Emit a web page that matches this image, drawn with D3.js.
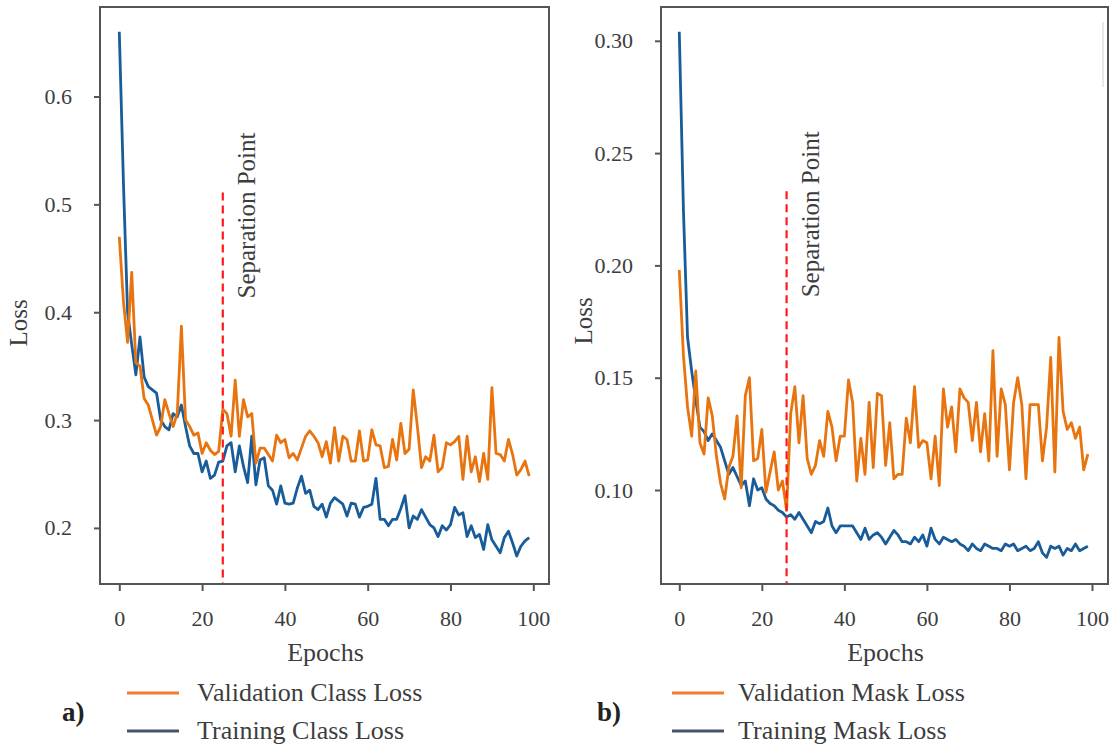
<!DOCTYPE html>
<html><head><meta charset="utf-8">
<script src="https://cdn.jsdelivr.net/npm/d3@7"></script>
<style>
html,body{margin:0;padding:0;background:#fff;}
svg{display:block;font-family:"Liberation Serif","Times New Roman",serif;}
</style></head><body>
<svg id="chart" width="1112" height="746"></svg>
<script>
const epochs = d3.range(0, 100);

const valClassLoss = [
0.470,0.410,0.372,0.437,0.353,0.350,0.320,0.314,0.300,0.286,
0.294,0.319,0.306,0.294,0.306,0.387,0.300,0.294,0.286,0.288,
0.269,0.279,0.272,0.268,0.271,0.310,0.306,0.285,0.337,0.285,
0.319,0.303,0.306,0.260,0.274,0.274,0.268,0.262,0.286,0.279,
0.282,0.265,0.269,0.263,0.274,0.285,0.290,0.285,0.279,0.266,
0.280,0.260,0.293,0.262,0.285,0.282,0.262,0.262,0.290,0.262,
0.263,0.291,0.277,0.276,0.256,0.257,0.282,0.263,0.297,0.269,
0.273,0.328,0.294,0.256,0.266,0.262,0.286,0.252,0.256,0.279,
0.277,0.280,0.285,0.245,0.285,0.252,0.266,0.243,0.269,0.245,
0.330,0.269,0.268,0.262,0.282,0.268,0.249,0.254,0.262,0.248];

const trainClassLoss = [
0.660,0.520,0.400,0.370,0.342,0.377,0.340,0.331,0.328,0.325,
0.300,0.294,0.291,0.306,0.303,0.314,0.294,0.276,0.269,0.269,
0.252,0.262,0.246,0.249,0.261,0.262,0.276,0.279,0.252,0.276,
0.257,0.242,0.285,0.240,0.263,0.265,0.239,0.235,0.222,0.239,
0.223,0.222,0.223,0.237,0.248,0.232,0.235,0.220,0.217,0.222,
0.210,0.223,0.228,0.225,0.222,0.211,0.223,0.222,0.210,0.219,
0.220,0.222,0.246,0.208,0.208,0.202,0.208,0.208,0.218,0.230,
0.200,0.211,0.208,0.217,0.210,0.203,0.200,0.192,0.202,0.198,
0.203,0.219,0.212,0.214,0.192,0.202,0.191,0.194,0.180,0.203,
0.189,0.183,0.177,0.191,0.197,0.186,0.174,0.183,0.188,0.191];

const valMaskLoss = [
0.198,0.160,0.137,0.124,0.153,0.121,0.116,0.141,0.133,0.115,
0.103,0.096,0.110,0.115,0.133,0.101,0.142,0.150,0.113,0.114,
0.127,0.099,0.108,0.117,0.100,0.104,0.091,0.134,0.146,0.121,
0.142,0.114,0.107,0.111,0.122,0.115,0.135,0.128,0.113,0.124,
0.124,0.149,0.139,0.104,0.123,0.107,0.139,0.110,0.143,0.142,
0.111,0.130,0.105,0.107,0.107,0.132,0.121,0.146,0.119,0.122,
0.121,0.105,0.124,0.102,0.145,0.128,0.137,0.117,0.145,0.141,
0.139,0.122,0.139,0.117,0.134,0.113,0.162,0.115,0.145,0.138,
0.109,0.139,0.150,0.138,0.105,0.138,0.138,0.138,0.113,0.128,
0.159,0.108,0.168,0.135,0.127,0.130,0.123,0.128,0.109,0.116];

const trainMaskLoss = [
0.304,0.225,0.168,0.153,0.140,0.128,0.126,0.122,0.125,0.122,
0.119,0.113,0.107,0.110,0.106,0.102,0.104,0.093,0.105,0.100,
0.101,0.096,0.094,0.093,0.091,0.090,0.088,0.089,0.087,0.090,
0.087,0.084,0.081,0.086,0.085,0.086,0.092,0.084,0.081,0.084,
0.084,0.084,0.084,0.081,0.078,0.083,0.078,0.080,0.081,0.079,
0.076,0.079,0.082,0.080,0.077,0.077,0.076,0.079,0.077,0.080,
0.075,0.083,0.078,0.076,0.079,0.078,0.077,0.078,0.076,0.075,
0.073,0.076,0.074,0.073,0.076,0.075,0.074,0.074,0.073,0.076,
0.075,0.076,0.073,0.074,0.075,0.073,0.074,0.077,0.072,0.070,
0.075,0.074,0.075,0.071,0.074,0.073,0.076,0.073,0.074,0.075];

const epochTicks = [0, 20, 40, 60, 80, 100];
const classTicks = [0.2, 0.3, 0.4, 0.5, 0.6];
const maskTicks = [0.10, 0.15, 0.20, 0.25, 0.30];
const legendA = ["Validation Class Loss", "Training Class Loss"];
const legendB = ["Validation Mask Loss", "Training Mask Loss"];
const panelLetters = ["a)", "b)"];
const separationEpochs = [25, 26];
const separationTops = [0.511, 0.233];
const separationLabel = "Separation Point";
const xLabel = "Epochs";
const yLabel = "Loss";

const COL_VAL = "#e8740f", COL_TRAIN = "#185c9a";
const LEG_VAL = "#ed7d31", LEG_TRAIN = "#44546a";
const TXT = "#3d3d3d", AX = "#555";

const svg = d3.select("#chart");

const panels = [
  {L:100, T:7, R:549, B:584, xd:[-4.66,103.79], yd:[0.148,0.683], yt:classTicks, fmt:d3.format(".1f"),
   val:valClassLoss, train:trainClassLoss, legend:legendA, letter:panelLetters[0],
   sep:separationEpochs[0], sepTop:separationTops[0], sepTxtDx:32, loss:{x:27,y:323},
   leg:{lx:127, tx:197, letterX:62}},
  {L:661, T:7, R:1108, B:584, xd:[-4.43,103.88], yd:[0.05815,0.31505], yt:maskTicks, fmt:d3.format(".2f"),
   val:valMaskLoss, train:trainMaskLoss, legend:legendB, letter:panelLetters[1],
   sep:separationEpochs[1], sepTop:separationTops[1], sepTxtDx:32, loss:{x:592,y:321},
   leg:{lx:672, tx:738, letterX:597}}
];

panels.forEach(p => {
  const x = d3.scaleLinear().domain(p.xd).range([p.L, p.R]);
  const y = d3.scaleLinear().domain(p.yd).range([p.B, p.T]);
  const g = svg.append("g");

  // x axis
  const xa = g.append("g").attr("transform", `translate(0,${p.B})`)
    .call(d3.axisBottom(x).tickValues(epochTicks).tickSize(7).tickFormat(d3.format("d")));
  xa.select(".domain").remove();
  xa.selectAll(".tick line").attr("stroke", AX).attr("stroke-width", 2);
  xa.selectAll(".tick text").attr("y", 42).attr("dy", 0).attr("fill", TXT)
    .attr("font-size", 22).attr("font-family", '"Liberation Serif","Times New Roman",serif');

  // y axis
  const ya = g.append("g").attr("transform", `translate(${p.L},0)`)
    .call(d3.axisLeft(y).tickValues(p.yt).tickSize(6).tickPadding(22).tickFormat(p.fmt));
  ya.select(".domain").remove();
  ya.selectAll(".tick line").attr("stroke", AX).attr("stroke-width", 2);
  ya.selectAll(".tick text").attr("fill", TXT).attr("font-size", 22)
    .attr("font-family", '"Liberation Serif","Times New Roman",serif');

  // lines
  const clipId = "clip" + p.L;
  svg.append("clipPath").attr("id", clipId).append("rect")
    .attr("x", p.L).attr("y", p.T).attr("width", p.R - p.L).attr("height", p.B - p.T);
  const line = d3.line().x((d, i) => x(epochs[i])).y(d => y(d));
  const lg = g.append("g").attr("clip-path", `url(#${clipId})`);
  lg.append("path").datum(p.train).attr("d", line).attr("fill", "none")
    .attr("stroke", COL_TRAIN).attr("stroke-width", 2.8).attr("stroke-linejoin", "round");
  lg.append("path").datum(p.val).attr("d", line).attr("fill", "none")
    .attr("stroke", COL_VAL).attr("stroke-width", 2.8).attr("stroke-linejoin", "round");

  // separation line
  lg.append("line").attr("x1", x(p.sep)).attr("x2", x(p.sep))
    .attr("y1", y(p.sepTop)).attr("y2", p.B)
    .attr("stroke", "#ff1a1a").attr("stroke-width", 2.2).attr("stroke-dasharray", "8,5");
  g.append("text").attr("transform", `translate(${x(p.sep) + p.sepTxtDx},${y(p.sepTop) + 106}) rotate(-90)`)
    .attr("font-size", 25).attr("fill", TXT).text(separationLabel);

  // frame
  g.append("rect").attr("x", p.L).attr("y", p.T).attr("width", p.R - p.L).attr("height", p.B - p.T)
    .attr("fill", "none").attr("stroke", AX).attr("stroke-width", 2);

  // axis labels
  g.append("text").attr("x", (p.L + p.R) / 2 + 1).attr("y", 661).attr("text-anchor", "middle")
    .attr("font-size", 26).attr("fill", TXT).text(xLabel);
  g.append("text").attr("transform", `translate(${p.loss.x},${p.loss.y}) rotate(-90)`)
    .attr("text-anchor", "middle").attr("font-size", 25).attr("fill", TXT).text(yLabel);

  // legend
  const rows = [{c: LEG_VAL, t: p.legend[0], y: 693}, {c: LEG_TRAIN, t: p.legend[1], y: 731}];
  rows.forEach(r => {
    g.append("line").attr("x1", p.leg.lx).attr("x2", p.leg.lx + 52).attr("y1", r.y).attr("y2", r.y)
      .attr("stroke", r.c).attr("stroke-width", 3.2);
    g.append("text").attr("x", p.leg.tx).attr("y", r.y + 8).attr("font-size", 26).attr("fill", TXT).text(r.t);
  });
  g.append("text").attr("x", p.leg.letterX).attr("y", 721).attr("font-size", 27)
    .attr("font-weight", "bold").attr("fill", "#222").text(p.letter);
});

// faint scan artifact in right panel
svg.append("line").attr("x1", 1103).attr("x2", 1103).attr("y1", 22).attr("y2", 87)
  .attr("stroke", "#e2e2e2").attr("stroke-width", 1.5);
</script>
</body></html>
